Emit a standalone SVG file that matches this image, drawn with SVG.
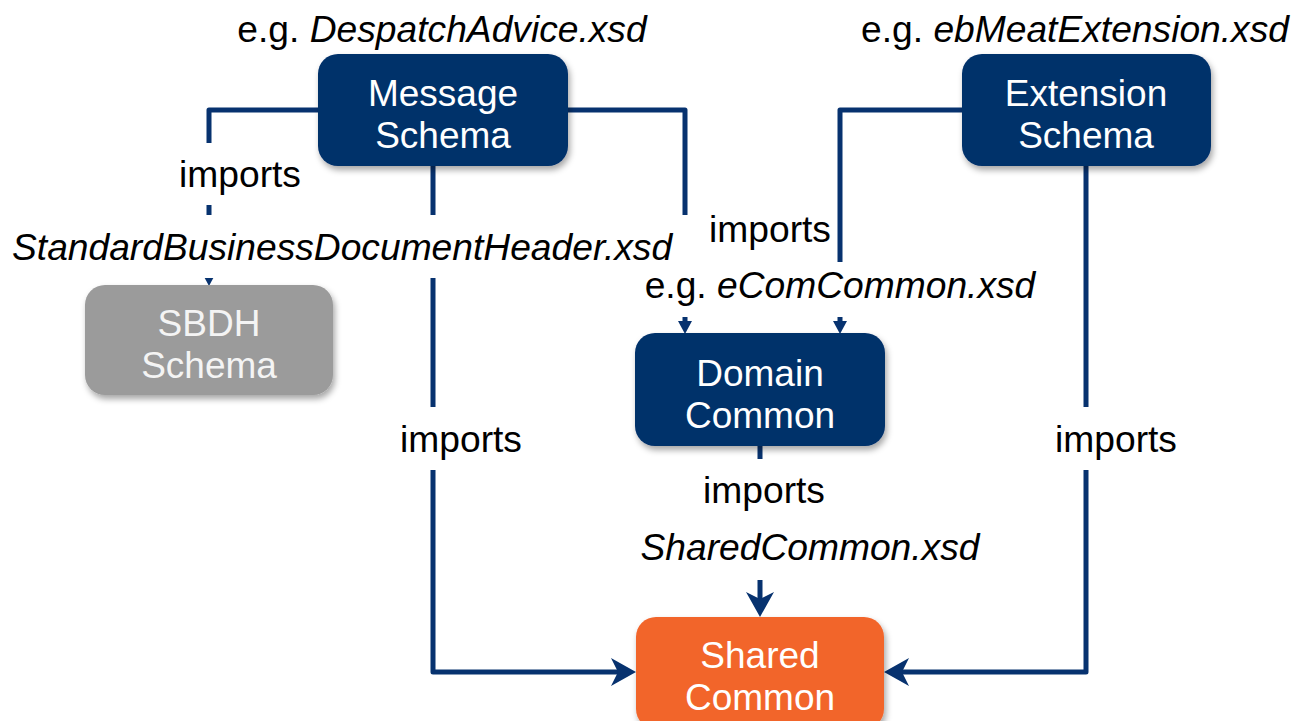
<svg xmlns="http://www.w3.org/2000/svg" width="1307" height="721" viewBox="0 0 1307 721">
<defs>
<style>
.t{font-family:"Liberation Sans",Arial,sans-serif;font-size:37.2px;fill:#000;text-anchor:middle}
.i{font-style:italic}
.nt{font-family:"Liberation Sans",Arial,sans-serif;font-size:37px;fill:#fff;text-anchor:middle}
.blue{fill:#03306B}
.gray{fill:#9B9B9B}
.orange{fill:#F2652B}
.bg{fill:#fff}
.c{fill:none;stroke:#07326F;stroke-width:5;stroke-linejoin:round}
</style>
<filter id="sh" x="-10%" y="-10%" width="130%" height="140%">
<feDropShadow dx="2" dy="4" stdDeviation="3" flood-color="#000" flood-opacity="0.35"/>
</filter>
<marker id="small" markerUnits="userSpaceOnUse" markerWidth="14" markerHeight="14" refX="6" refY="7" orient="auto">
<path d="M0,0 L13,7 L0,14 z" fill="#07326F"/>
</marker>
<marker id="big" markerUnits="userSpaceOnUse" markerWidth="26" markerHeight="28" refX="18" refY="14" orient="auto">
<path d="M0,0 L25,14 L0,28 L7,14 z" fill="#07326F"/>
</marker>
</defs>
<rect width="1307" height="721" fill="#fff"/>

<g id="connectors">
<path class="c" d="M318,110 H209 V279" marker-end="url(#small)"/>
<path class="c" d="M568,110 H685 V327" marker-end="url(#small)"/>
<path class="c" d="M962,110 H840 V327" marker-end="url(#small)"/>
<path class="c" d="M433,166 V672 H629" marker-end="url(#big)"/>
<path class="c" d="M1086,166 V672 H891" marker-end="url(#big)"/>
<path class="c" d="M760,446 V610" marker-end="url(#big)"/>
</g>

<g id="labels">
<rect class="bg" x="172" y="143" width="140" height="62"/>
<text class="t" x="240" y="187">imports</text>
<rect class="bg" x="640" y="262" width="400" height="55"/>
<text class="t" x="840" y="298">e.g. <tspan class="i">eComCommon.xsd</tspan></text>
<rect class="bg" x="693" y="215" width="142" height="47"/>
<text class="t" x="770" y="242">imports</text>
<rect class="bg" x="5" y="215" width="688" height="63"/>
<text class="t i" x="12" y="260" style="text-anchor:start">StandardBusinessDocumentHeader.xsd</text>
<rect class="bg" x="395" y="407" width="135" height="63"/>
<text class="t" x="461" y="452">imports</text>
<rect class="bg" x="1050" y="407" width="135" height="63"/>
<text class="t" x="1116" y="452">imports</text>
<rect class="bg" x="690" y="459" width="145" height="61"/>
<text class="t" x="764" y="503">imports</text>
<rect class="bg" x="635" y="520" width="350" height="60"/>
<text class="t i" x="810" y="560">SharedCommon.xsd</text>
<text class="t" x="442" y="42">e.g. <tspan class="i">DespatchAdvice.xsd</tspan></text>
<text class="t" x="1075" y="42">e.g. <tspan class="i">ebMeatExtension.xsd</tspan></text>
</g>

<g id="message-schema">
<rect class="blue" x="318" y="54" width="250" height="112" rx="20" filter="url(#sh)"/>
<text class="nt" x="443" y="106">Message</text>
<text class="nt" x="443" y="148">Schema</text>
</g>
<g id="extension-schema">
<rect class="blue" x="962" y="54" width="249" height="112" rx="20" filter="url(#sh)"/>
<text class="nt" x="1086" y="106">Extension</text>
<text class="nt" x="1086" y="148">Schema</text>
</g>
<g id="sbdh-schema">
<rect class="gray" x="85" y="285" width="248" height="110" rx="20" filter="url(#sh)"/>
<text class="nt" x="209" y="336" style="fill:#F4F4F4">SBDH</text>
<text class="nt" x="209" y="378" style="fill:#F4F4F4">Schema</text>
</g>
<g id="domain-common">
<rect class="blue" x="635" y="333" width="250" height="113" rx="20" filter="url(#sh)"/>
<text class="nt" x="760" y="386">Domain</text>
<text class="nt" x="760" y="428">Common</text>
</g>
<g id="shared-common">
<rect class="orange" x="636" y="617" width="248" height="112" rx="20" filter="url(#sh)"/>
<text class="nt" x="760" y="668">Shared</text>
<text class="nt" x="760" y="710">Common</text>
</g>
</svg>
